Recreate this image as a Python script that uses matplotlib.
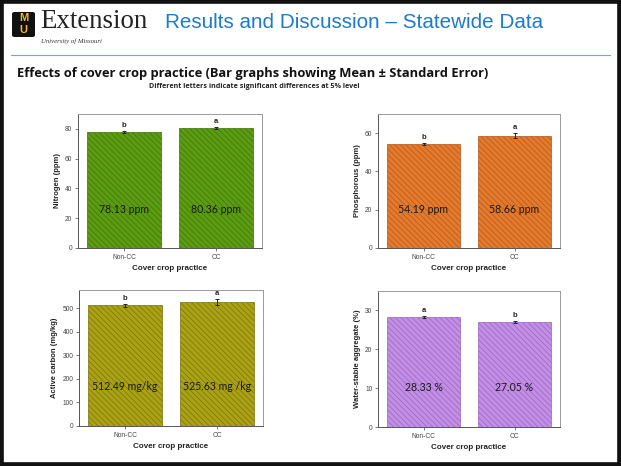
import matplotlib
matplotlib.use("Agg")
import matplotlib.pyplot as plt
from matplotlib.patches import Rectangle, FancyBboxPatch
import matplotlib.transforms as mtransforms

# ---- data -------------------------------------------------------------
practices = ["Non-CC", "CC"]

nitrogen_mean = [78.13, 80.36]
nitrogen_se = [0.6, 0.6]
nitrogen_letters = ["b", "a"]
nitrogen_units = [" ppm", " ppm"]

phosphorus_mean = [54.19, 58.66]
phosphorus_se = [0.6, 1.4]
phosphorus_letters = ["b", "a"]
phosphorus_units = [" ppm", " ppm"]

carbon_mean = [512.49, 525.63]
carbon_se = [7.0, 12.0]
carbon_letters = ["b", "a"]
carbon_units = [" mg/kg", " mg /kg"]

wsa_mean = [28.33, 27.05]
wsa_se = [0.25, 0.3]
wsa_letters = ["a", "b"]
wsa_units = [" %", " %"]

W, H = 621, 466
plt.rcParams["hatch.linewidth"] = 0.45
plt.rcParams["font.family"] = ["Liberation Sans", "DejaVu Sans"]

fig = plt.figure(figsize=(W / 100, H / 100), dpi=100)
fig.patch.set_facecolor("white")


def fx(x):
    return x / W


def fy(y):
    return 1 - y / H


def axes_rect(left, top, right, bottom):
    return [fx(left), fy(bottom), (right - left) / W, (bottom - top) / H]


panels = [
    dict(mean=nitrogen_mean, se=nitrogen_se, letters=nitrogen_letters,
         units=nitrogen_units, ylabel="Nitrogen (ppm)", ymax=90,
         yticks=[0, 20, 40, 60, 80], face="#5b9c12", edge="#3d7008",
         rect=axes_rect(78, 114, 262, 248)),
    dict(mean=phosphorus_mean, se=phosphorus_se, letters=phosphorus_letters,
         units=phosphorus_units, ylabel="Phosphorous (ppm)", ymax=70,
         yticks=[0, 20, 40, 60], face="#e47a2c", edge="#b0541a",
         rect=axes_rect(378, 114, 560, 248)),
    dict(mean=carbon_mean, se=carbon_se, letters=carbon_letters,
         units=carbon_units, ylabel="Active carbon (mg/kg)", ymax=578,
         yticks=[0, 100, 200, 300, 400, 500], face="#aaa214", edge="#76700a",
         rect=axes_rect(79, 290, 263, 426)),
    dict(mean=wsa_mean, se=wsa_se, letters=wsa_letters,
         units=wsa_units, ylabel="Water-stable aggregate (%)", ymax=35,
         yticks=[0, 10, 20, 30], face="#c28ee6", edge="#9563b8",
         rect=axes_rect(378, 291, 560, 427)),
]

x = list(range(len(practices)))
for p in panels:
    ax = fig.add_axes(p["rect"])
    ax.bar(x, p["mean"], width=0.8, color=p["face"], edgecolor=p["edge"],
           linewidth=0.5, hatch="\\\\\\\\\\\\", zorder=2)
    ax.errorbar(x, p["mean"], yerr=p["se"], fmt="none", ecolor="#222222",
                elinewidth=0.7, capsize=1.6, capthick=0.7, zorder=3)
    for xi, m, s, letter, unit in zip(x, p["mean"], p["se"], p["letters"], p["units"]):
        ax.annotate(letter, (xi, m + s), xytext=(0, 1.5), textcoords="offset points",
                    ha="center", va="bottom", fontsize=5.5, fontweight="bold",
                    color="#222222")
        trans = mtransforms.blended_transform_factory(ax.transData, ax.transAxes)
        ax.text(xi, 0.29, f"{m:.2f}{unit}", transform=trans, ha="center",
                va="center", fontsize=7.6, color="#1a1a1a",
                family=["Lato", "DejaVu Sans"], zorder=4)
    ax.set_xlim(-0.5, 1.5)
    ax.set_ylim(0, p["ymax"])
    ax.set_yticks(p["yticks"])
    ax.set_xticks(x)
    ax.set_xticklabels(practices)
    ax.tick_params(axis="both", labelsize=4.8, length=2.5, width=0.5,
                   colors="#444444", pad=1.5)
    ax.set_ylabel(p["ylabel"], fontsize=5.5, fontweight="bold", labelpad=3,
                  color="#222222")
    ax.set_xlabel("Cover crop practice", fontsize=5.8, fontweight="bold",
                  labelpad=3, color="#222222")
    for side in ("left", "bottom"):
        ax.spines[side].set_color("#555555")
        ax.spines[side].set_linewidth(0.7)
    for side in ("top", "right"):
        ax.spines[side].set_color("#9a9a9a")
        ax.spines[side].set_linewidth(0.7)

# ---- slide header -----------------------------------------------------
logo = FancyBboxPatch((fx(12), fy(37)), (35 - 12) / W, (37 - 12) / H,
                      boxstyle="round,pad=0,rounding_size=0.004",
                      transform=fig.transFigure, facecolor="#111111",
                      edgecolor="none")
fig.patches.append(logo)
fig.text(fx(23.5), fy(18.3), "M", fontsize=8, fontweight="bold",
         color="#f1b82d", ha="center", va="center")
fig.text(fx(23.5), fy(30.3), "U", fontsize=8, fontweight="bold",
         color="#f1b82d", ha="center", va="center")

fig.text(fx(40), fy(28), "Extension", fontsize=19.4,
         family=["Liberation Serif", "DejaVu Serif"], color="#222222",
         ha="left", va="baseline")
fig.text(fx(41), fy(43), "University of Missouri", fontsize=4.9,
         family=["Liberation Serif", "DejaVu Serif"], style="italic",
         color="#333333", ha="left", va="baseline")

fig.text(fx(165), fy(22), "Results and Discussion \u2013 Statewide Data",
         fontsize=14.9, color="#1f7bc8", ha="left", va="center")

fig.add_artist(plt.Line2D([fx(11), fx(610)], [fy(55), fy(55)],
                          transform=fig.transFigure, color="#7aa6d6",
                          linewidth=0.8))

fig.text(fx(17), fy(73),
         "Effects of cover crop practice (Bar graphs showing Mean \u00b1 Standard Error)",
         fontsize=9.3, fontweight="bold", family=["Open Sans", "DejaVu Sans"],
         color="#111111", ha="left", va="center")
fig.text(fx(254), fy(87),
         "Different letters indicate significant differences at 5% level",
         fontsize=5.1, fontweight="bold", family=["Open Sans", "DejaVu Sans"],
         color="#222222", ha="center", va="center")

# slide frame
fig.patches.append(Rectangle((0, 0), 1, 1, transform=fig.transFigure,
                             fill=False, edgecolor="#111111", linewidth=5.5))

fig.savefig("out.png", dpi=100)
